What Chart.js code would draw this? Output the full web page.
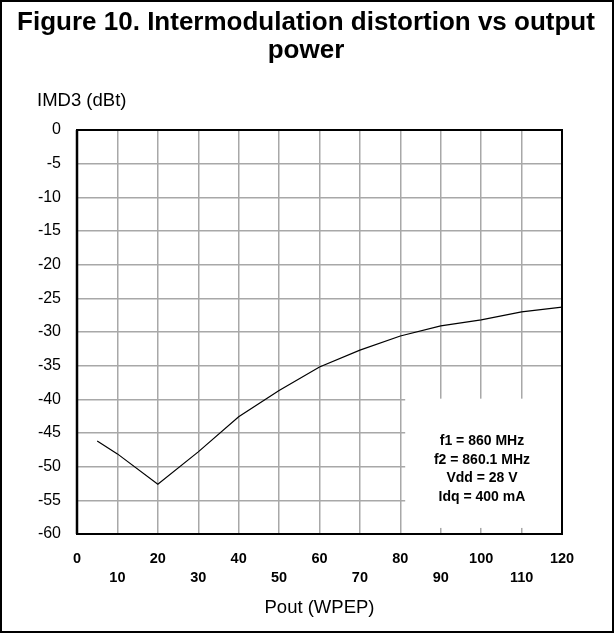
<!DOCTYPE html>
<html>
<head>
<meta charset="utf-8">
<script src="https://cdn.jsdelivr.net/npm/chart.js@4/dist/chart.umd.min.js"></script>
<style>
html, body { margin: 0; padding: 0; background: #fff; }
</style>
</head>
<body>
<canvas id="imd_chart" width="615" height="633"></canvas>
<script>
// IMD3 vs output power
var poutW = [5, 10, 20, 30, 40, 50, 60, 70, 80, 90, 100, 110, 120];
var imd3 = [-46.2, -48.1, -52.6, -47.8, -42.6, -38.7, -35.2, -32.7, -30.6, -29.1, -28.2, -27.0, -26.3];
var titleLines = ['Figure 10. Intermodulation distortion vs output', 'power'];
var yLabel = 'IMD3 (dBt)';
var xLabel = 'Pout (WPEP)';
var noteLines = ['f1 = 860 MHz', 'f2 = 860.1 MHz', 'Vdd = 28 V', 'Idq = 400 mA'];

var FONT = '"Liberation Sans", Arial, sans-serif';

var decor = {
	id: 'decor',
	beforeDatasetsDraw: function (chart) {
		// white box with the test conditions, covers the grid
		var ctx = chart.ctx, xs = chart.scales.x, ys = chart.scales.y;
		var l = xs.getPixelForValue(81.2), r = xs.getPixelForValue(120) - 1;
		var t = ys.getPixelForValue(-39.9), b = ys.getPixelForValue(-59.1);
		ctx.save();
		ctx.fillStyle = '#fff';
		ctx.fillRect(l, t, r - l, b - t);
		ctx.fillStyle = '#000';
		ctx.font = 'bold 14px ' + FONT;
		ctx.textAlign = 'center';
		ctx.textBaseline = 'middle';
		var cx = xs.getPixelForValue(100.2);
		for (var i = 0; i < noteLines.length; i++) {
			ctx.fillText(noteLines[i], cx, t + 42.5 + i * 18.5);
		}
		ctx.restore();
	},
	afterDraw: function (chart) {
		var ctx = chart.ctx, a = chart.chartArea;
		ctx.save();
		// plot frame
		ctx.strokeStyle = '#000';
		ctx.lineWidth = 2;
		ctx.strokeRect(a.left, a.top, a.right - a.left, a.bottom - a.top);
		ctx.lineWidth = 2.5;
		ctx.beginPath();
		ctx.moveTo(a.left, a.top);
		ctx.lineTo(a.left, a.bottom);
		ctx.stroke();
		// figure border
		ctx.lineWidth = 2;
		ctx.strokeRect(1, 1, chart.width - 3, chart.height - 2);
		// title
		ctx.fillStyle = '#000';
		ctx.font = 'bold 26px ' + FONT;
		ctx.textAlign = 'center';
		ctx.textBaseline = 'alphabetic';
		ctx.fillText(titleLines[0], 306, 30);
		ctx.fillText(titleLines[1], 306, 58);
		// y axis name, above the axis
		ctx.font = '18.5px ' + FONT;
		ctx.textAlign = 'left';
		ctx.textBaseline = 'middle';
		ctx.fillText(yLabel, 37, 101);
		ctx.restore();
	}
};

var ctx = document.getElementById('imd_chart').getContext('2d');
var chart = new Chart(ctx, {
	type: 'line',
	data: {
		datasets: [{
			data: poutW.map(function (x, i) { return { x: x, y: imd3[i] }; }),
			borderColor: '#000',
			borderWidth: 1.2,
			pointRadius: 0,
			tension: 0,
			fill: false
		}]
	},
	options: {
		responsive: false,
		animation: false,
		layout: {
			padding: { top: 130, right: 53, bottom: 0, left: 0 }
		},
		plugins: {
			legend: { display: false },
			tooltip: { enabled: false }
		},
		scales: {
			x: {
				type: 'linear',
				min: 0,
				max: 120,
				afterFit: function (scale) { scale.height = 99; },
				grid: { color: '#a8a8a8', lineWidth: 1.5, drawTicks: false },
				border: { display: false },
				ticks: {
					stepSize: 10,
					autoSkip: false,
					maxRotation: 0,
					padding: 16,
					color: '#000',
					font: { family: FONT, size: 14.5, weight: 'bold', lineHeight: 1.28 },
					// even values on the first row, odd ones on the second
					callback: function (v) {
						return v % 20 === 0 ? [String(v), ''] : ['', String(v)];
					}
				},
				title: {
					display: true,
					text: xLabel,
					color: '#000',
					font: { family: FONT, size: 18.5 },
					padding: { top: 14, bottom: 14 }
				}
			},
			y: {
				min: -60,
				max: 0,
				afterFit: function (scale) { scale.width = 77; },
				grid: { color: '#a8a8a8', lineWidth: 1.5, drawTicks: false },
				border: { display: false },
				ticks: {
					stepSize: 5,
					padding: 16,
					color: '#000',
					font: { family: FONT, size: 16 }
				}
			}
		}
	},
	plugins: [decor]
});
</script>
</body>
</html>
